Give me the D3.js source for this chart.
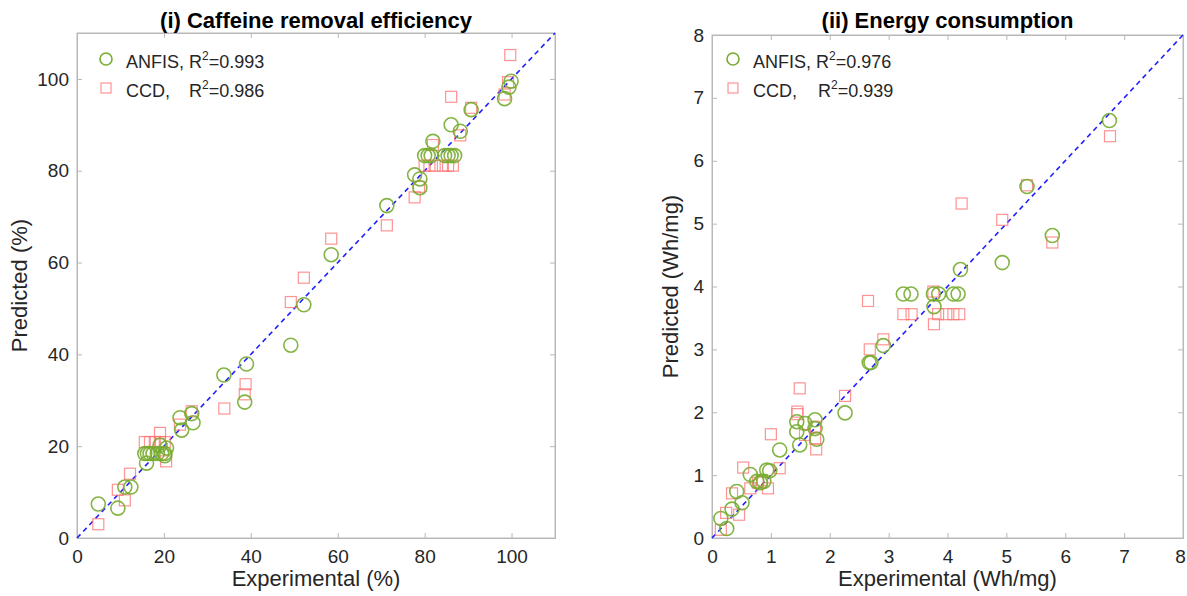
<!DOCTYPE html>
<html>
<head>
<meta charset="utf-8">
<script src="https://cdn.jsdelivr.net/npm/d3@7"></script>
<style>
  body { margin: 0; background: #fff; }
  svg { font-family: "Liberation Sans", Arial, sans-serif; }
</style>
</head>
<body>
<script>
// (i) Caffeine removal efficiency: [experimental, predicted]
const caffeineAnfis = [
  [4.9, 7.4], [9.4, 6.5], [11.0, 11.1], [12.4, 11.1],
  [15.6, 18.4], [16.2, 18.4], [16.8, 18.4], [17.5, 18.4], [18.5, 18.4], [19.5, 18.4], [20.2, 18.4],
  [16.0, 16.3], [19.1, 20.2], [20.6, 19.6], [20.2, 17.9],
  [23.7, 26.2], [24.1, 23.5], [26.4, 27.1], [26.7, 25.1],
  [33.8, 35.5], [38.6, 29.6], [39.0, 37.9], [49.2, 42.0], [52.2, 50.8], [58.5, 61.7], [71.3, 72.4],
  [77.7, 79.1], [78.9, 78.2], [78.9, 76.3],
  [80.0, 83.3], [80.8, 83.3], [81.5, 83.3], [84.6, 83.3], [85.4, 83.3], [86.1, 83.3], [86.9, 83.3],
  [81.9, 86.4], [86.1, 90.0], [88.2, 88.6], [90.7, 93.3],
  [98.4, 95.7], [99.4, 98.2], [99.9, 99.5]
];
const caffeineCcd = [
  [4.9, 3.0], [9.4, 10.5], [11.0, 8.2], [12.2, 14.0],
  [15.6, 20.9], [16.8, 20.9], [17.9, 20.9], [19.1, 20.9], [20.2, 20.9],
  [19.1, 22.9], [20.5, 16.7], [23.7, 24.7], [26.4, 27.6],
  [33.9, 28.2], [38.8, 33.5], [38.6, 31.3], [49.2, 51.4], [52.2, 56.7], [58.5, 65.2],
  [71.3, 68.1], [77.7, 74.2], [78.7, 76.5],
  [80.0, 81.1], [81.1, 81.1], [82.3, 81.1], [84.2, 81.1], [85.4, 81.1], [86.5, 81.1],
  [81.9, 85.6], [86.1, 96.1], [88.2, 87.7], [90.7, 93.7],
  [98.4, 96.6], [99.2, 99.3], [99.7, 105.2]
];

// (ii) Energy consumption: [experimental, predicted]
const energyAnfis = [
  [0.15, 0.31], [0.25, 0.15], [0.34, 0.46], [0.42, 0.74], [0.51, 0.56], [0.65, 1.01],
  [0.76, 0.90], [0.82, 0.88], [0.88, 0.90], [0.93, 1.08], [0.98, 1.07], [1.15, 1.40],
  [1.44, 1.85], [1.49, 1.48], [1.44, 1.69], [1.58, 1.82], [1.75, 1.88], [1.75, 1.74], [1.78, 1.57],
  [2.26, 1.99], [2.67, 2.79], [2.70, 2.79], [2.91, 3.06],
  [3.25, 3.88], [3.38, 3.88], [3.76, 3.88], [3.85, 3.88], [3.77, 3.68], [4.10, 3.88], [4.18, 3.88],
  [4.22, 4.27], [4.93, 4.38], [5.35, 5.59], [5.78, 4.81], [6.75, 6.64]
];
const energyCcd = [
  [0.15, 0.13], [0.24, 0.40], [0.46, 0.37], [0.34, 0.71], [0.53, 1.12], [0.65, 0.79],
  [0.78, 0.88], [0.85, 0.92], [0.95, 0.79], [1.00, 1.65], [1.15, 1.11],
  [1.49, 2.38], [1.45, 2.01], [1.45, 1.97], [1.58, 1.64], [1.75, 1.77], [1.75, 1.58], [1.77, 1.41],
  [2.26, 2.26], [2.65, 3.77], [2.68, 3.00], [2.91, 3.16],
  [3.25, 3.56], [3.39, 3.56], [3.76, 3.92], [3.77, 3.40], [3.84, 3.56], [3.98, 3.56], [4.10, 3.56], [4.20, 3.56],
  [4.24, 5.32], [4.93, 5.06], [5.35, 5.61], [5.78, 4.70], [6.76, 6.39]
];

const caffeineTicks = [0, 20, 40, 60, 80, 100];
const energyTicks = [0, 1, 2, 3, 4, 5, 6, 7, 8];

const W = 1187, H = 596;
const svg = d3.select("body").append("svg")
  .attr("width", W)
  .attr("height", H);

const green = "#77ac30";
const pink = "#ff6f6f";
const axisColor = "#262626";

function drawPanel(opt) {
  const x = d3.scaleLinear().domain(opt.domain).range([opt.left, opt.right]);
  const y = d3.scaleLinear().domain(opt.domain).range([opt.bottom, opt.top]);
  const g = svg.append("g");

  // box
  g.append("rect")
    .attr("x", opt.left).attr("y", opt.top)
    .attr("width", opt.right - opt.left).attr("height", opt.bottom - opt.top)
    .attr("fill", "none").attr("stroke", "#b8b8b8").attr("stroke-width", 1);

  // axes
  const xAxis = d3.axisBottom(x).tickValues(opt.ticks).tickSize(-5).tickPadding(12);
  const yAxis = d3.axisLeft(y).tickValues(opt.ticks).tickSize(-5).tickPadding(8);
  const xTop = d3.axisTop(x).tickValues(opt.ticks).tickSize(-5).tickFormat("");
  const yRight = d3.axisRight(y).tickValues(opt.ticks).tickSize(-5).tickFormat("");

  const axes = [
    g.append("g").attr("transform", `translate(0,${opt.bottom})`).call(xAxis),
    g.append("g").attr("transform", `translate(${opt.left},0)`).call(yAxis),
    g.append("g").attr("transform", `translate(0,${opt.top})`).call(xTop),
    g.append("g").attr("transform", `translate(${opt.right},0)`).call(yRight)
  ];
  axes.forEach(a => {
    a.select(".domain").attr("stroke", "#b8b8b8");
    a.selectAll(".tick line").attr("stroke", "#b8b8b8");
    a.selectAll(".tick text")
      .attr("fill", axisColor)
      .style("font-size", "19px")
      .style("font-family", "Liberation Sans, Arial, sans-serif");
  });
  // keep the last x tick label inside the window
  if (opt.right > W - 10) {
    axes[0].selectAll(".tick text").filter(d => d === opt.domain[1]).attr("dx", -3);
  }

  // y = x line
  g.append("line")
    .attr("x1", x(opt.domain[0])).attr("y1", y(opt.domain[0]))
    .attr("x2", x(opt.domain[1])).attr("y2", y(opt.domain[1]))
    .attr("stroke", "#1f1fff").attr("stroke-width", 1.6)
    .attr("stroke-dasharray", "5,4");

  // CCD squares
  const s = 11;
  g.append("g").selectAll("rect")
    .data(opt.ccd)
    .join("rect")
    .attr("x", d => x(d[0]) - s / 2)
    .attr("y", d => y(d[1]) - s / 2)
    .attr("width", s).attr("height", s)
    .attr("fill", "none")
    .attr("stroke", pink).attr("stroke-opacity", 0.75).attr("stroke-width", 1.2);

  // ANFIS circles
  g.append("g").selectAll("circle")
    .data(opt.anfis)
    .join("circle")
    .attr("cx", d => x(d[0]))
    .attr("cy", d => y(d[1]))
    .attr("r", 7)
    .attr("fill", "none")
    .attr("stroke", green).attr("stroke-opacity", 0.9).attr("stroke-width", 1.6);

  // title
  g.append("text")
    .attr("x", (opt.left + opt.right) / 2).attr("y", 28)
    .attr("text-anchor", "middle")
    .style("font-size", "22px").style("font-weight", "bold")
    .attr("fill", "#000")
    .text(opt.title);

  // axis labels
  g.append("text")
    .attr("x", (opt.left + opt.right) / 2).attr("y", 586)
    .attr("text-anchor", "middle")
    .style("font-size", "22px").attr("fill", axisColor)
    .text(opt.xLabel);
  g.append("text")
    .attr("transform", `translate(${opt.yLabelX},${(opt.top + opt.bottom) / 2}) rotate(-90)`)
    .attr("text-anchor", "middle")
    .style("font-size", "22px").attr("fill", axisColor)
    .text(opt.yLabel);

  // legend
  const lx = opt.left + opt.legendDx;
  const leg = g.append("g");
  leg.append("circle").attr("cx", lx).attr("cy", 59).attr("r", 6)
    .attr("fill", "none").attr("stroke", green).attr("stroke-width", 1.6);
  leg.append("rect").attr("x", lx - 5).attr("y", 83).attr("width", 10).attr("height", 10)
    .attr("fill", "none").attr("stroke", pink).attr("stroke-opacity", 0.75).attr("stroke-width", 1.2);

  const t1 = leg.append("text").attr("x", lx + 20).attr("y", 68)
    .style("font-size", "18px").attr("fill", axisColor);
  t1.append("tspan").text("ANFIS, R");
  t1.append("tspan").attr("dy", -8).style("font-size", "12px").text("2");
  t1.append("tspan").attr("dy", 8).text("=" + opt.r2[0]);

  const t2 = leg.append("text").attr("y", 97)
    .style("font-size", "18px").attr("fill", axisColor);
  t2.append("tspan").attr("x", lx + 20).text("CCD,");
  t2.append("tspan").attr("x", lx + 20 + opt.r2Offset).text("R");
  t2.append("tspan").attr("dy", -8).style("font-size", "12px").text("2");
  t2.append("tspan").attr("dy", 8).text("=" + opt.r2[1]);
}

drawPanel({
  left: 77, right: 555, top: 33, bottom: 538,
  domain: [0, 110], ticks: caffeineTicks,
  anfis: caffeineAnfis, ccd: caffeineCcd,
  title: "(i) Caffeine removal efficiency",
  xLabel: "Experimental (%)", yLabel: "Predicted (%)", yLabelX: 27,
  legendDx: 29, r2: ["0.993", "0.986"], r2Offset: 63
});

drawPanel({
  left: 712, right: 1183, top: 35, bottom: 538,
  domain: [0, 8], ticks: energyTicks,
  anfis: energyAnfis, ccd: energyCcd,
  title: "(ii) Energy consumption",
  xLabel: "Experimental (Wh/mg)", yLabel: "Predicted (Wh/mg)", yLabelX: 678,
  legendDx: 21, r2: ["0.976", "0.939"], r2Offset: 65
});
</script>
</body>
</html>
